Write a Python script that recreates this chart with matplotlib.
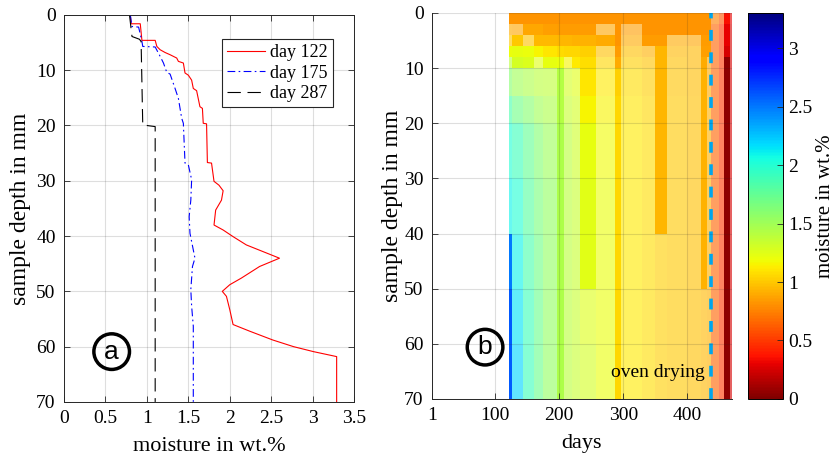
import numpy as np
import matplotlib
matplotlib.use('Agg')
import matplotlib.pyplot as plt
from matplotlib import cm, colors, ticker

plt.rcParams['font.family'] = ['Liberation Serif', 'DejaVu Serif']

# ---- panel (a): moisture profiles ----
d122_depth = [0, 1.6, 1.6, 4.6, 4.6, 5.7, 6.3, 6.8, 7.2, 7.8, 8.4, 8.7, 10.5, 10.9, 11.8, 13.3, 13.7,
              16.6, 16.9, 19.6, 19.7, 26.7, 26.8, 30.1, 30.8, 31.8, 33.5, 35.3, 38.0, 38.9, 40.1, 41.6,
              43.1, 44.0, 45.5, 47.6, 48.8, 50.0, 50.9, 53.3, 56.0, 57.2, 58.8, 60.0, 60.9, 61.8, 70]
d122_moist = [0.80, 0.81, 0.92, 0.94, 1.10, 1.12, 1.16, 1.22, 1.28, 1.36, 1.38, 1.44, 1.46, 1.50, 1.54,
              1.56, 1.60, 1.64, 1.67, 1.68, 1.72, 1.73, 1.78, 1.81, 1.87, 1.92, 1.90, 1.83, 1.81, 1.92,
              2.04, 2.20, 2.45, 2.60, 2.36, 2.14, 2.00, 1.91, 1.96, 2.00, 2.04, 2.24, 2.52, 2.77, 3.01,
              3.29, 3.29]

d175_depth = [0, 2.1, 2.2, 4.8, 5.7, 5.8, 7.5, 8.7, 10.4, 10.7, 13.3, 15.1, 18.7, 19.6, 26.8, 27.1,
              29.8, 33.5, 36.5, 39.5, 42.5, 44.0, 45.5, 49.7, 52.7, 56.3, 70]
d175_moist = [0.80, 0.82, 0.90, 0.94, 0.95, 1.10, 1.16, 1.20, 1.24, 1.28, 1.34, 1.38, 1.42, 1.44, 1.46,
              1.50, 1.54, 1.53, 1.51, 1.52, 1.56, 1.58, 1.55, 1.53, 1.54, 1.56, 1.56]

d287_depth = [0, 3.9, 4.4, 4.8, 19.9, 20.2, 70]
d287_moist = [0.79, 0.82, 0.91, 0.93, 0.95, 1.10, 1.10]

# ---- panel (b): moisture map (days x depth) ----
day_edges = [122, 126, 143, 160, 175, 196, 207, 220, 233, 258, 287, 297, 330, 350, 368, 400, 422,
             431, 438, 450, 458, 467, 470]
depth_edges = [0, 2, 4, 6, 8, 10, 15, 20, 30, 40, 50, 60, 70]

moisture_rows = [
    [0.82] * 18 + [0.75, 0.60, 0.35, 0.30],
    [0.90, 0.88, 0.88, 0.88, 0.86, 0.85, 0.85, 0.84, 0.84, 0.88, 0.82, 0.86, 0.82, 0.82, 0.82, 0.82, 0.82, 0.82, 0.65, 0.50, 0.30, 0.25],
    [1.00, 1.00, 0.98, 0.95, 0.95, 0.93, 0.93, 0.92, 0.92, 0.90, 0.82, 0.90, 0.84, 0.85, 0.90, 0.88, 0.84, 0.84, 0.65, 0.50, 0.30, 0.25],
    [1.20, 1.22, 1.20, 1.15, 1.10, 1.06, 1.05, 1.05, 1.02, 0.97, 0.84, 0.97, 0.92, 0.93, 0.95, 0.95, 0.86, 0.86, 0.65, 0.50, 0.25, 0.25],
    [1.40, 1.30, 1.27, 1.25, 1.22, 1.20, 1.15, 1.12, 1.08, 1.05, 0.90, 1.02, 0.98, 0.93, 0.97, 0.95, 0.90, 0.88, 0.65, 0.50, 0.05, 0.25],
    [1.60, 1.50, 1.45, 1.40, 1.38, 1.42, 1.30, 1.25, 1.10, 1.12, 1.03, 1.08, 1.02, 0.93, 0.98, 0.96, 0.92, 0.90, 0.65, 0.50, 0.05, 0.25],
    [1.85, 1.70, 1.60, 1.50, 1.45, 1.42, 1.35, 1.30, 1.15, 1.15, 1.05, 1.10, 1.05, 0.93, 1.00, 0.97, 0.92, 0.92, 0.65, 0.50, 0.05, 0.25],
    [2.00, 1.90, 1.75, 1.62, 1.52, 1.45, 1.40, 1.32, 1.22, 1.18, 1.05, 1.12, 1.07, 0.93, 1.00, 0.97, 0.92, 0.92, 0.65, 0.50, 0.05, 0.25],
    [2.10, 2.00, 1.80, 1.65, 1.55, 1.45, 1.40, 1.35, 1.24, 1.20, 1.05, 1.12, 1.08, 0.93, 1.00, 0.97, 0.92, 0.92, 0.65, 0.50, 0.05, 0.25],
    [2.50, 2.10, 1.85, 1.70, 1.55, 1.45, 1.40, 1.35, 1.24, 1.20, 1.05, 1.12, 1.08, 1.02, 1.00, 0.97, 0.92, 0.92, 0.65, 0.50, 0.05, 0.25],
    [2.60, 2.15, 1.90, 1.72, 1.55, 1.45, 1.40, 1.35, 1.26, 1.20, 1.05, 1.12, 1.08, 1.02, 1.00, 0.97, 0.95, 0.92, 0.65, 0.50, 0.05, 0.25],
    [2.60, 2.20, 1.90, 1.72, 1.55, 1.45, 1.40, 1.35, 1.30, 1.20, 1.05, 1.12, 1.08, 1.02, 1.00, 0.97, 0.95, 0.92, 0.65, 0.50, 0.05, 0.25],
]

# cells that show the full (opaque) colour
solid_rows = [
    [1] * 18 + [0, 0, 1, 0],
    [0, 0, 1, 1, 1, 1, 1, 1, 1, 0, 1, 0, 1, 1, 1, 1, 1, 1, 0, 0, 1, 0],
    [0, 1, 0, 1, 1, 1, 1, 1, 1, 1, 1, 0, 1, 1, 0, 0, 1, 1, 0, 0, 1, 0],
    [1, 1, 1, 1, 1, 1, 1, 1, 1, 0, 1, 0, 0, 1, 0, 0, 1, 1, 0, 0, 1, 0],
    [0, 1, 1, 0, 1, 1, 0, 1, 1, 0, 1, 0, 0, 1, 0, 0, 1, 0, 0, 0, 1, 0],
    [0, 0, 0, 0, 0, 1, 0, 0, 1, 0, 1, 0, 0, 1, 0, 0, 1, 0, 0, 0, 1, 0],
    [0, 0, 0, 0, 0, 1, 0, 0, 1, 0, 1, 0, 0, 1, 0, 0, 1, 0, 0, 0, 1, 0],
    [0, 0, 0, 0, 0, 1, 0, 0, 1, 0, 1, 0, 0, 1, 0, 0, 1, 0, 0, 0, 1, 0],
    [0, 0, 0, 0, 0, 1, 0, 0, 1, 0, 1, 0, 0, 1, 0, 0, 1, 0, 0, 0, 1, 0],
    [1, 0, 0, 0, 0, 1, 0, 0, 1, 0, 1, 0, 0, 0, 0, 0, 1, 0, 0, 0, 1, 0],
    [1, 0, 0, 0, 0, 1, 0, 0, 0, 0, 1, 0, 0, 0, 0, 0, 0, 0, 0, 0, 1, 0],
    [1, 0, 0, 0, 0, 1, 0, 0, 0, 0, 1, 0, 0, 0, 0, 0, 0, 0, 0, 0, 1, 0],
]

oven_day = 438
vmax = 3.3

fig = plt.figure(figsize=(8.37, 4.62), dpi=100)

# ---------- (a) ----------
ax1 = fig.add_axes([0.0765, 0.130, 0.3465, 0.8377])
ax1.plot(d122_moist, d122_depth, color='r', lw=0.8, label='day 122')
ax1.plot(d175_moist, d175_depth, color='b', lw=0.8, ls=(0, (7, 3, 1.5, 3)), label='day 175')
ax1.plot(d287_moist, d287_depth, color='k', lw=0.8, ls=(0, (12, 6)), label='day 287')
ax1.set_xlim(0, 3.5)
ax1.set_ylim(70, 0)
ax1.set_xticks(np.arange(0, 3.51, 0.5))
ax1.set_yticks(np.arange(0, 71, 10))
ax1.xaxis.set_major_formatter(ticker.FormatStrFormatter('%g'))
ax1.grid(True, color='0.15', alpha=0.15, lw=0.8)
ax1.tick_params(direction='in', top=True, right=True, labelsize=14, length=4, width=0.6, pad=6,
                colors='0.15', labelcolor='k')
for s in ax1.spines.values():
    s.set_color('0.15')
    s.set_linewidth(0.7)
ax1.set_xlabel('moisture in wt.%', fontsize=16, labelpad=7)
ax1.set_ylabel('sample depth in mm', fontsize=17, labelpad=4)
leg = ax1.legend(loc='upper right', bbox_to_anchor=(0.927, 0.938), fancybox=False, framealpha=1,
                 edgecolor='0.15', fontsize=13, handlelength=2.1, borderpad=0.3, labelspacing=0.18,
                 handletextpad=0.25, borderaxespad=0)
leg.get_frame().set_linewidth(0.8)
ax1.text(0.575, 60.9, 'a', family=['Liberation Sans', 'DejaVu Sans'], fontsize=19, ha='center',
         va='center', bbox=dict(boxstyle='circle,pad=0.22', fc='none', ec='k', lw=2.5))

# ---------- (b) ----------
ax2 = fig.add_axes([0.5161, 0.1364, 0.3584, 0.8355])
M = np.array(moisture_rows)
S = np.array(solid_rows, dtype=bool)
ax2.pcolormesh(day_edges, depth_edges, M, cmap='jet_r', vmin=0, vmax=vmax, alpha=0.62,
               shading='flat', edgecolors='none', antialiased=False)
ax2.pcolormesh(day_edges, depth_edges, np.ma.masked_where(~S, M), cmap='jet_r', vmin=0, vmax=vmax,
               shading='flat', edgecolors='none', antialiased=False)
ax2.axvline(oven_day, color='#00A6ED', lw=2.6, ls=(0, (3, 3.2)))
ax2.set_xlim(1, 470)
ax2.set_ylim(70, 0)
ax2.set_xticks([1, 100, 200, 300, 400])
ax2.set_yticks(np.arange(0, 71, 10))
ax2.set_axisbelow(False)
ax2.grid(True, color='0.15', alpha=0.15, lw=0.8)
ax2.tick_params(direction='in', labelsize=14, length=4, width=0.6, pad=6, colors='0.15', labelcolor='k')
ax2.spines['top'].set_visible(False)
ax2.spines['right'].set_visible(False)
for s in ['left', 'bottom']:
    ax2.spines[s].set_color('0.15')
    ax2.spines[s].set_linewidth(0.7)
ax2.set_xlabel('days', fontsize=16, labelpad=7)
ax2.set_ylabel('sample depth in mm', fontsize=17, labelpad=1)
ax2.text(428, 66, 'oven drying', fontsize=14, ha='right', va='baseline')
ax2.text(84, 60.6, 'b', family=['Liberation Sans', 'DejaVu Sans'], fontsize=19, ha='center',
         va='center', bbox=dict(boxstyle='circle,pad=0.22', fc='none', ec='k', lw=2.5))

# colour bar
cax = fig.add_axes([0.8937, 0.1364, 0.0418, 0.8355])
sm = cm.ScalarMappable(norm=colors.Normalize(0, vmax), cmap='jet_r')
cb = fig.colorbar(sm, cax=cax, ticks=np.arange(0, 3.01, 0.5))
cb.ax.yaxis.set_major_formatter(ticker.FormatStrFormatter('%g'))
cb.ax.tick_params(direction='in', labelsize=14, length=4, width=0.6, colors='0.15', labelcolor='k')
cb.outline.set_linewidth(0.7)
cb.set_label('moisture in wt.%', fontsize=15, labelpad=3)

fig.savefig('out.png', dpi=100)
